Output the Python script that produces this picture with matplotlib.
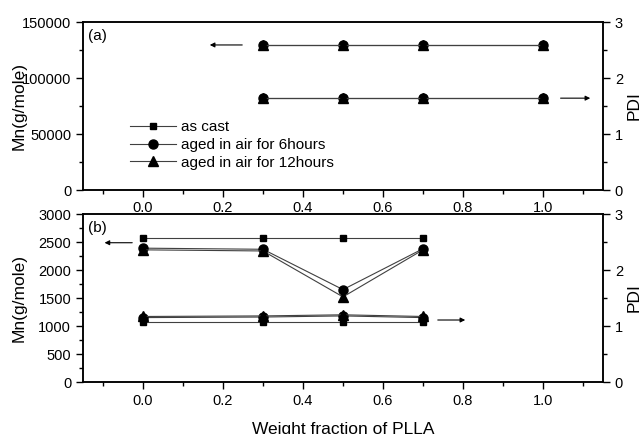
import matplotlib
matplotlib.use("Agg")
import matplotlib.pyplot as plt
from matplotlib.ticker import MultipleLocator

plt.rcParams['font.family'] = ['Liberation Sans', 'DejaVu Sans']
plt.rcParams['font.size'] = 10.5

series_labels = ["as cast", "aged in air for 6hours", "aged in air for 12hours"]
markers = ["s", "o", "^"]
msizes = [5, 6.5, 7]

# Panel (a)
x_a = [0.3, 0.5, 0.7, 1.0]
mn_a_cast = [129500, 129500, 129500, 129500]
mn_a_6h = [129500, 129500, 129500, 129500]
mn_a_12h = [129500, 129500, 129500, 129500]
pdi_a_cast = [1.64, 1.64, 1.64, 1.64]
pdi_a_6h = [1.64, 1.64, 1.64, 1.64]
pdi_a_12h = [1.64, 1.64, 1.64, 1.64]

# Panel (b)
x_b = [0.0, 0.3, 0.5, 0.7]
mn_b_cast = [2580, 2580, 2580, 2580]
mn_b_6h = [2390, 2370, 1650, 2380]
mn_b_12h = [2360, 2340, 1520, 2360]
pdi_b_cast = [1.07, 1.07, 1.07, 1.07]
pdi_b_6h = [1.15, 1.16, 1.18, 1.15]
pdi_b_12h = [1.17, 1.18, 1.20, 1.17]

W, H = 644, 434
fig = plt.figure(figsize=(W / 100, H / 100), dpi=100)

def rect(l, t, r, b):
    return [l / W, 1 - b / H, (r - l) / W, (b - t) / H]

ax_a = fig.add_axes(rect(83, 22, 603, 190))
ax_b = fig.add_axes(rect(83, 214, 603, 382))

line_kw = dict(color="#404040", lw=0.8, markerfacecolor="black",
               markeredgecolor="black")

def style(ax, axr, ymax, ymaj, ymin_):
    ax.set_xlim(-0.15, 1.15)
    ax.xaxis.set_major_locator(MultipleLocator(0.2))
    ax.xaxis.set_minor_locator(MultipleLocator(0.1))
    ax.set_ylim(0, ymax)
    ax.yaxis.set_major_locator(MultipleLocator(ymaj))
    ax.yaxis.set_minor_locator(MultipleLocator(ymin_))
    axr.set_ylim(0, 3)
    axr.yaxis.set_major_locator(MultipleLocator(1))
    axr.yaxis.set_minor_locator(MultipleLocator(0.5))
    for a in (ax, axr):
        for s in a.spines.values():
            s.set_linewidth(1.1)
        a.tick_params(which="major", direction="out", length=5, width=1.0, labelsize=10.5)
        a.tick_params(which="minor", direction="out", length=3, width=1.0)
    ax.set_ylabel("Mn(g/mole)", fontsize=12.5)
    ax.yaxis.set_label_coords(-0.108, 0.5)
    axr.set_ylabel("PDI", fontsize=12.5)
    axr.yaxis.set_label_coords(1.045, 0.5)

arrow_kw = dict(arrowstyle="-|>", color="black", lw=0.8, mutation_scale=7)

# Panel (a)
axr_a = ax_a.twinx()
for y, m, ms, lab in zip([mn_a_cast, mn_a_6h, mn_a_12h], markers, msizes, series_labels):
    ax_a.plot(x_a, y, marker=m, markersize=ms, label=lab, **line_kw)
for y, m, ms in zip([pdi_a_cast, pdi_a_6h, pdi_a_12h], markers, msizes):
    axr_a.plot(x_a, y, marker=m, markersize=ms, **line_kw)
style(ax_a, axr_a, 150000, 50000, 25000)
ax_a.tick_params(axis="x", pad=3)
ax_a.text(0.01, 0.96, "(a)", transform=ax_a.transAxes, fontsize=11, va="top")
ax_a.annotate("", xy=(0.16, 129500), xytext=(0.255, 129500), arrowprops=arrow_kw)
axr_a.annotate("", xy=(1.125, 1.64), xytext=(1.037, 1.64), arrowprops=arrow_kw)
ax_a.legend(loc="upper left", bbox_to_anchor=(0.07, 0.48), frameon=False,
            fontsize=11, handlelength=3, handletextpad=0.3, labelspacing=0.25,
            borderpad=0.2)

# Panel (b)
axr_b = ax_b.twinx()
for y, m, ms in zip([mn_b_cast, mn_b_6h, mn_b_12h], markers, msizes):
    ax_b.plot(x_b, y, marker=m, markersize=ms, **line_kw)
for y, m, ms in zip([pdi_b_cast, pdi_b_6h, pdi_b_12h], markers, msizes):
    axr_b.plot(x_b, y, marker=m, markersize=ms, **line_kw)
style(ax_b, axr_b, 3000, 500, 250)
ax_b.text(0.01, 0.96, "(b)", transform=ax_b.transAxes, fontsize=11, va="top")
ax_b.annotate("", xy=(-0.103, 2487), xytext=(-0.02, 2487), arrowprops=arrow_kw)
axr_b.annotate("", xy=(0.8125, 1.107), xytext=(0.73, 1.107), arrowprops=arrow_kw)
ax_b.set_xlabel("Weight fraction of PLLA", fontsize=12.5, labelpad=10)

fig.savefig("out.png", dpi=100)
